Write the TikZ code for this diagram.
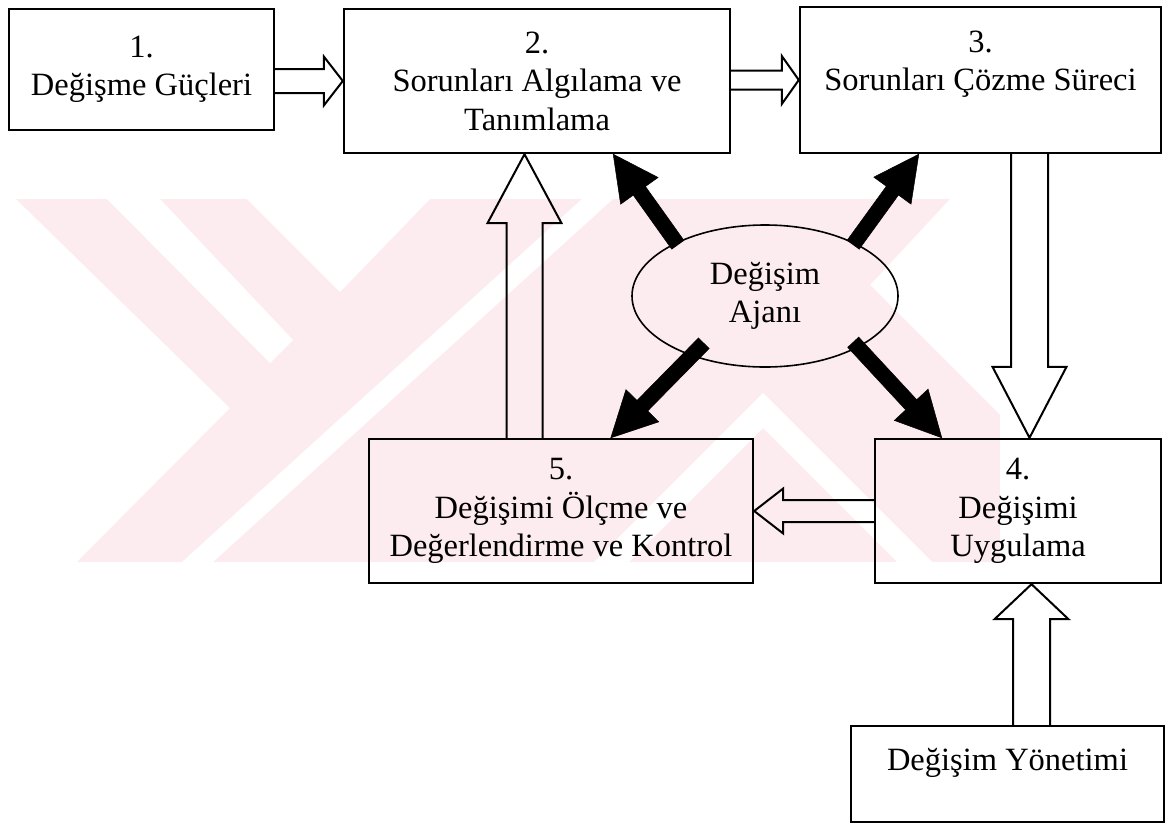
\documentclass[tikz,border=0pt]{standalone}
\usepackage{fontspec}
\setmainfont{Liberation Serif}
\usepackage{tikz}
\usetikzlibrary{calc,shapes.geometric}

\definecolor{wmpink}{RGB}{253,236,239}

\newcommand{\blockarrow}[6]{%
  \draw[#6] let \p3=($(#2)!#5pt!(#1)$) in
    ($(#1)!#3pt!90:(#2)$) -- ($(\p3)!#3pt!90:(#2)$) -- ($(\p3)!#4pt!90:(#2)$)
    -- (#2) -- ($(\p3)!#4pt!-90:(#2)$) -- ($(\p3)!#3pt!-90:(#2)$)
    -- ($(#1)!#3pt!-90:(#2)$);}

\begin{document}
\begin{tikzpicture}[%
  x=1pt, y=-1pt,
  font=\fontsize{32.5}{38.5}\selectfont,
  box/.style={draw, line width=2.4pt, align=center, inner sep=0pt},
  agent/.style={draw, ellipse, line width=1.6pt, align=center, inner sep=0pt,
    minimum width=266pt, minimum height=142pt},
  openarrow/.style={line width=2pt, line join=miter},
  solidarrow/.style={fill=black, line width=0.5pt}]
  \useasboundingbox (0,0) rectangle (1169,823);

  \fill[wmpink] (16,199) -- (950,199) -- (870,285) -- (1000,415) -- (1000,562)
    -- (77,562) -- (230,408) -- cycle;
  \fill[white] (107,199) -- (160,199) -- (293,340) -- (270,363) -- cycle;
  \fill[white] (247,199) -- (340,292) -- (430,199) -- cycle;
  \fill[white] (182,562) -- (213,562) -- (613,199) -- (582,199) -- cycle;
  \fill[white] (763,393) -- (932,562) -- (897,562) -- (763,428) -- (629,562)
    -- (594,562) -- cycle;

  \node[box, minimum width=265pt, minimum height=121pt] (b1) at (141.5,69.5)
    {1.\\Değişme Güçleri};
  \node[box, minimum width=386pt, minimum height=144pt] (b2) at (537,81)
    {2.\\Sorunları Algılama ve\\Tanımlama};
  \node[box, minimum width=361pt, minimum height=146pt] (b3) at (980.5,80)
    {3.\\Sorunları Çözme Süreci\\\mbox{}};
  \node[box, minimum width=286pt, minimum height=144pt] (b4) at (1018,511)
    {4.\\Değişimi\\Uygulama};
  \node[box, minimum width=384pt, minimum height=144pt] (b5) at (561,511)
    {5.\\Değişimi Ölçme ve\\Değerlendirme ve Kontrol};
  \node[box, minimum width=313pt, minimum height=96pt, text height=23pt,
    text depth=31pt] (dy) at (1007.5,774) {Değişim Yönetimi};
  \node[agent] (ag) at (765,296) {Değişim\\Ajanı};

  \coordinate (a12) at (b1.east |- b2.west);
  \coordinate (a23) at (b2.east |- b3.west);
  \coordinate (a34) at ([xshift=49pt]b3.south);
  \coordinate (e34) at (a34 |- b4.north);
  \coordinate (a52) at ([xshift=-36.5pt]b5.north);
  \coordinate (e52) at (a52 |- b2.south);
  \coordinate (a64) at ([xshift=24pt]dy.north);
  \coordinate (e64) at (a64 |- b4.south);

  \blockarrow{a12}{b2.west}{12}{24.5}{19}{openarrow}
  \blockarrow{a23}{b3.west}{9.5}{24}{17}{openarrow}
  \blockarrow{a34}{e34}{18.5}{37}{71}{openarrow}
  \blockarrow{a52}{e52}{18}{37}{69}{openarrow}
  \blockarrow{b4.west}{b5.east}{11}{22.5}{29}{openarrow}
  \blockarrow{a64}{e64}{18.5}{37}{35}{openarrow}

  \coordinate (sUL) at ([shift={(-87,-51)}]ag.center);
  \coordinate (sUR) at ([shift={(88,-51)}]ag.center);
  \coordinate (sLL) at ([shift={(-61,47)}]ag.center);
  \coordinate (sLR) at ([shift={(88,46)}]ag.center);
  \coordinate (tUL) at ([xshift=-118pt]b2.south east);
  \coordinate (tUR) at ([xshift=120pt]b3.south west);
  \coordinate (tLL) at ([xshift=243pt]b5.north west);
  \coordinate (tLR) at ([xshift=68pt]b4.north west);

  \blockarrow{sUL}{tUL}{7.5}{23}{45}{solidarrow}
  \blockarrow{sUR}{tUR}{7.5}{23}{45}{solidarrow}
  \blockarrow{sLL}{tLL}{7.5}{23}{45}{solidarrow}
  \blockarrow{sLR}{tLR}{7.5}{23}{45}{solidarrow}

\end{tikzpicture}
\end{document}
